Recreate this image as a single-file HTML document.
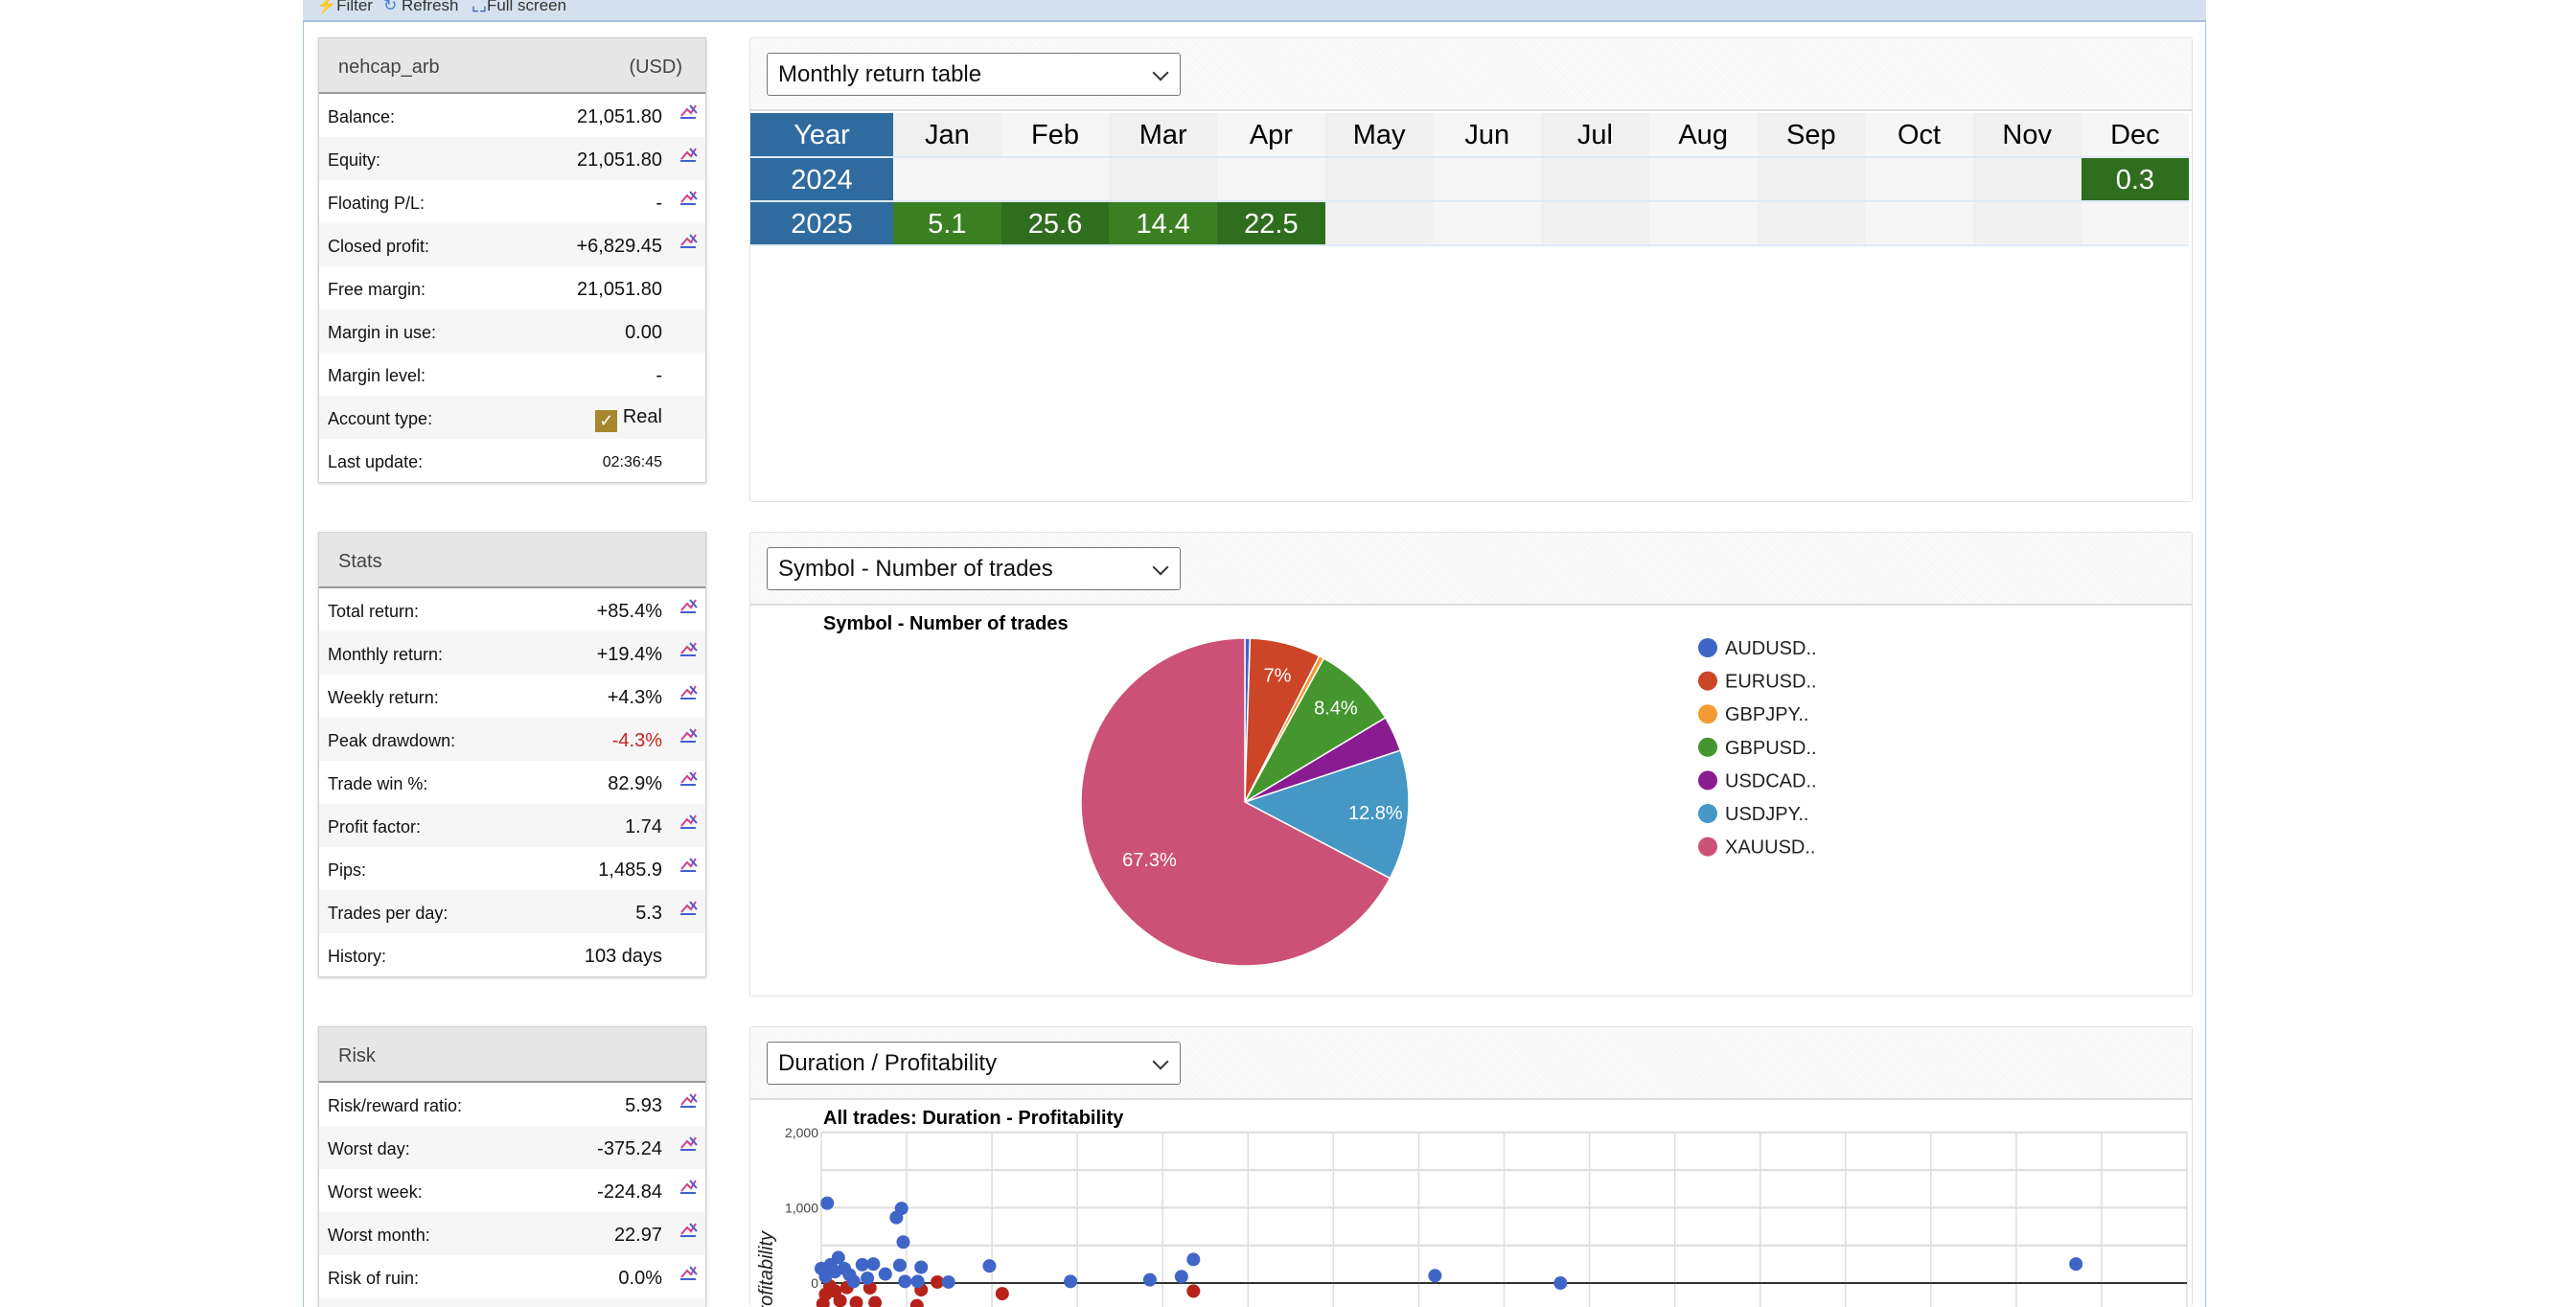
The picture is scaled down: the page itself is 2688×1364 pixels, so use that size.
<!DOCTYPE html>
<html><head><meta charset="utf-8">
<style>
*{box-sizing:border-box;margin:0;padding:0}
html,body{width:2688px;height:1364px;overflow:hidden}
body{background:#fff;font-family:"Liberation Sans",sans-serif;position:relative}
.abs{position:absolute}
.toolbar{left:316px;top:-4px;width:1986px;height:27px;background:#d5e1ee;border-bottom:2px solid #a8c0df;font-size:17px;color:#333}
.container{left:316px;top:0;width:1986px;height:1364px;border-left:1px solid #a8c0df;border-right:1px solid #a8c0df}
.panel{left:332px;width:405px;border:1px solid #d0d0d0;box-shadow:0 1px 3px rgba(0,0,0,.2);background:#fff;overflow:hidden}
.phead{height:58px;background:#e6e6e6;border-bottom:2px solid #999;display:flex;align-items:center;justify-content:space-between;padding:4px 24px 0 20px;font-size:20px;color:#444}
.row{height:45px;display:flex;align-items:center;padding:4px 0 0 9px;font-size:18px;color:#111;position:relative}
.row .v{position:absolute;right:45px;font-size:20px}
.row .ic{position:absolute;right:8px;top:8px;width:20px;height:20px}
.box{left:782px;width:1506px;border:1px solid #e2e2e2;border-radius:3px;background:#fff;overflow:hidden}
.band{height:76px;background:repeating-linear-gradient(45deg,#f7f7f7 0 2px,#fbfbfb 2px 4px);border-bottom:2px solid #ddd;position:relative}
.dd{position:absolute;left:17px;top:15px;width:432px;height:45px;border:1px solid #777;border-radius:3px;background:#fff;font-size:24px;padding:8px 11px;color:#111}
.dd:after{content:"";position:absolute;right:14px;top:14px;width:10px;height:10px;border-right:2px solid #333;border-bottom:2px solid #333;transform:rotate(45deg)}
table{border-collapse:collapse;position:absolute;left:0;top:78px}
td{height:46px;text-align:center;font-size:29px;border-bottom:2px solid #dde9f6;padding:2px 0 0 0}
td.y{width:149px;background:#306b9f;color:#fff}
td.m{width:112.7px}
td.a{background:#f0f0f0}td.b{background:#f6f6f6}
td.g{background:#3a8022;color:#fff}td.dg{background:#2f6e1f;color:#fff}
</style></head><body>
<div class="abs container"></div>
<div class="abs toolbar">
 <span class="abs" style="left:14px;top:0"><span style="color:#e0a000">⚡</span>Filter</span>
 <span class="abs" style="left:84px;top:0"><span style="color:#4a7fd0">↻</span> Refresh</span>
 <span class="abs" style="left:176px;top:0"><span style="color:#2a5fb0">⌞⌟</span>Full screen</span>
</div>

<svg width="0" height="0" style="position:absolute"><defs><g id="ico"><path d="M3 15 L9 8 L13 12 L18 4" stroke="#d04090" stroke-width="2" fill="none"/><path d="M2 17 L18 17" stroke="#4060d0" stroke-width="2"/><path d="M12 4 L19 12" stroke="#4060d0" stroke-width="2"/></g></defs></svg>

<div class="abs panel" style="top:39px">
 <div class="phead"><span>nehcap_arb</span><span>(USD)</span></div>
 <div>
  <div class="row" style="background:#fff"><span>Balance:</span><span class="v">21,051.80</span><svg class="ic"><use href="#ico"/></svg></div>
  <div class="row" style="background:#f6f6f6"><span>Equity:</span><span class="v">21,051.80</span><svg class="ic"><use href="#ico"/></svg></div>
  <div class="row" style="background:#fff"><span>Floating P/L:</span><span class="v">-</span><svg class="ic"><use href="#ico"/></svg></div>
  <div class="row" style="background:#f6f6f6"><span>Closed profit:</span><span class="v">+6,829.45</span><svg class="ic"><use href="#ico"/></svg></div>
  <div class="row" style="background:#fff"><span>Free margin:</span><span class="v">21,051.80</span></div>
  <div class="row" style="background:#f6f6f6"><span>Margin in use:</span><span class="v">0.00</span></div>
  <div class="row" style="background:#fff"><span>Margin level:</span><span class="v">-</span></div>
  <div class="row" style="background:#f6f6f6"><span>Account type:</span><span class="v"><span style="display:inline-block;width:23px;height:23px;background:#a8862e;color:#fff;text-align:center;font-size:18px;line-height:23px;vertical-align:-4px">✓</span> Real</span></div>
  <div class="row" style="background:#fff"><span>Last update:</span><span class="v" style="font-size:16px">02:36:45</span></div>
 </div>
</div>

<div class="abs panel" style="top:555px">
 <div class="phead"><span>Stats</span></div>
 <div class="row" style="background:#fff"><span>Total return:</span><span class="v">+85.4%</span><svg class="ic"><use href="#ico"/></svg></div>
 <div class="row" style="background:#f6f6f6"><span>Monthly return:</span><span class="v">+19.4%</span><svg class="ic"><use href="#ico"/></svg></div>
 <div class="row" style="background:#fff"><span>Weekly return:</span><span class="v">+4.3%</span><svg class="ic"><use href="#ico"/></svg></div>
 <div class="row" style="background:#f6f6f6"><span>Peak drawdown:</span><span class="v" style="color:#c8261c">-4.3%</span><svg class="ic"><use href="#ico"/></svg></div>
 <div class="row" style="background:#fff"><span>Trade win %:</span><span class="v">82.9%</span><svg class="ic"><use href="#ico"/></svg></div>
 <div class="row" style="background:#f6f6f6"><span>Profit factor:</span><span class="v">1.74</span><svg class="ic"><use href="#ico"/></svg></div>
 <div class="row" style="background:#fff"><span>Pips:</span><span class="v">1,485.9</span><svg class="ic"><use href="#ico"/></svg></div>
 <div class="row" style="background:#f6f6f6"><span>Trades per day:</span><span class="v">5.3</span><svg class="ic"><use href="#ico"/></svg></div>
 <div class="row" style="background:#fff"><span>History:</span><span class="v">103 days</span></div>
</div>

<div class="abs panel" style="top:1071px;height:293px;border-bottom:none">
 <div class="phead"><span>Risk</span></div>
 <div class="row" style="background:#fff"><span>Risk/reward ratio:</span><span class="v">5.93</span><svg class="ic"><use href="#ico"/></svg></div>
 <div class="row" style="background:#f6f6f6"><span>Worst day:</span><span class="v">-375.24</span><svg class="ic"><use href="#ico"/></svg></div>
 <div class="row" style="background:#fff"><span>Worst week:</span><span class="v">-224.84</span><svg class="ic"><use href="#ico"/></svg></div>
 <div class="row" style="background:#f6f6f6"><span>Worst month:</span><span class="v">22.97</span><svg class="ic"><use href="#ico"/></svg></div>
 <div class="row" style="background:#fff"><span>Risk of ruin:</span><span class="v">0.0%</span><svg class="ic"><use href="#ico"/></svg></div>
 <div class="row" style="background:#f6f6f6"></div>
</div>

<!-- Monthly table -->
<div class="abs box" style="top:39px;height:485px">
 <div class="band"><div class="dd">Monthly return table</div></div>
 <table>
  <tr><td class="y">Year</td><td class="m a">Jan</td><td class="m b">Feb</td><td class="m a">Mar</td><td class="m b">Apr</td><td class="m a">May</td><td class="m b">Jun</td><td class="m a">Jul</td><td class="m b">Aug</td><td class="m a">Sep</td><td class="m b">Oct</td><td class="m a">Nov</td><td class="m b">Dec</td></tr>
  <tr><td class="y">2024</td><td class="m b"></td><td class="m b"></td><td class="m a"></td><td class="m b"></td><td class="m a"></td><td class="m b"></td><td class="m a"></td><td class="m b"></td><td class="m a"></td><td class="m b"></td><td class="m a"></td><td class="m dg">0.3</td></tr>
  <tr><td class="y">2025</td><td class="m g">5.1</td><td class="m dg">25.6</td><td class="m g">14.4</td><td class="m dg">22.5</td><td class="m a"></td><td class="m b"></td><td class="m a"></td><td class="m b"></td><td class="m a"></td><td class="m b"></td><td class="m a"></td><td class="m b"></td></tr>
 </table>
</div>

<!-- Pie box -->
<div class="abs box" style="top:555px;height:485px">
 <div class="band"><div class="dd">Symbol - Number of trades</div></div>
</div>
<svg class="abs" id="pie" style="left:0;top:0" width="2688" height="1364">
 <text x="859" y="657" font-size="20" font-weight="bold" font-family="Liberation Sans">Symbol - Number of trades</text>
</svg>

<!-- Scatter box -->
<div class="abs box" style="top:1071px;height:293px;border-bottom:none">
 <div class="band"><div class="dd">Duration / Profitability</div></div>
</div>
<svg class="abs" id="sc" style="left:0;top:0" width="2688" height="1364">
 <text x="859" y="1173" font-size="20" font-weight="bold" font-family="Liberation Sans">All trades: Duration - Profitability</text>
</svg>

<script>
// Pie data
const pieLabels = ["AUDUSD..","EURUSD..","GBPJPY..","GBPUSD..","USDCAD..","USDJPY..","XAUUSD.."];
const pieValues = [0.5, 7.0, 0.5, 8.4, 3.5, 12.8, 67.3];
const pieText = ["","7%","","8.4%","","12.8%","67.3%"];
const pieColors = ["#3f65c6","#cc4527","#f29b33","#45962f","#8a1c92","#4597c5","#cc5177"];

// Scatter data (duration in grid units, profit)
const winDur = [0.07,0.94,0.88,0.96,0.2,0.11,0,0.48,0.61,0.92,1.17,0.27,0.54,0.98,1.13,1.49,1.97,2.92,3.85,4.22,4.36,7.19,8.66,14.7,0.38,0.16,0.05,0.33,0.75];
const winProfit = [1060,990,870,544,338,244,193,244,253,236,210,193,64,21,21,13,227,21,43,86,313,98,0,253,21,150,86,110,120];
const lossDur = [1.36,2.12,4.36,0.57,1.17,0.41,0.63,1.12,0.05,0.16,0.22,0.02,0.3,0.1];
const lossProfit = [13,-141,-107,-64,-90,-261,-261,-300,-150,-107,-235,-278,-60,-40];
const yTicks = [0,1000,2000];
const yTickLabels = ["0","1,000","2,000"];

const NS="http://www.w3.org/2000/svg";
function mk(parent,tag,attrs){const e=document.createElementNS(NS,tag);for(const k in attrs)e.setAttribute(k,attrs[k]);parent.appendChild(e);return e;}

// Pie
(function(){
 const svg=document.getElementById('pie');
 const cx=1299,cy=837,r=171;
 const total=pieValues.reduce((a,b)=>a+b,0);
 let a0=-Math.PI/2;
 pieValues.forEach((v,i)=>{
  const a1=a0+v/total*2*Math.PI;
  const large=(a1-a0)>Math.PI?1:0;
  const p=mk(svg,'path',{d:`M${cx},${cy} L${cx+r*Math.cos(a0)},${cy+r*Math.sin(a0)} A${r},${r} 0 ${large} 1 ${cx+r*Math.cos(a1)},${cy+r*Math.sin(a1)} Z`,fill:pieColors[i],stroke:'#fff','stroke-width':1.5});
  
  
  if(pieText[i]){
   const am=(a0+a1)/2, rr=r*(v>50?0.68:0.8);
   const t=mk(svg,'text',{x:cx+rr*Math.cos(am),y:cy+rr*Math.sin(am)+7,'text-anchor':'middle','font-size':20,fill:'#fff','font-family':'Liberation Sans'});
   t.textContent=pieText[i];
   
   
  }
  a0=a1;
 });
 pieLabels.forEach((l,i)=>{
  const y=676+i*34.6;
  const c=mk(svg,'circle',{cx:1782,cy:y,r:10,fill:pieColors[i]});
  
  
  const t=mk(svg,'text',{x:1800,y:y+7,'font-size':20,fill:'#222','font-family':'Liberation Sans'});
  t.textContent=l;
  
  
 });
})();

// Scatter
(function(){
 const svg=document.getElementById('sc');
 const L=857,R=2282,Y0=1339,pxPerUnit=0.0786,xUnit=(R-L)/16;
 const X=d=>L+d*xUnit, Y=v=>Y0-v*pxPerUnit;
 for(let i=0;i<=16;i++){
  const l=mk(svg,'line',{x1:X(i),x2:X(i),y1:Y(2000),y2:1364,stroke:'#ddd','stroke-width':1.5});
  
  
 }
 for(let v=500;v<=2000;v+=500){
  const l=mk(svg,'line',{x1:L,x2:R,y1:Y(v),y2:Y(v),stroke:'#ddd','stroke-width':2});
  
  
 }
 const z=mk(svg,'line',{x1:L,x2:R,y1:Y(0),y2:Y(0),stroke:'#333','stroke-width':2});
 
 
 yTicks.forEach((v,i)=>{
  const t=mk(svg,'text',{x:854,y:Y(v)+5,'text-anchor':'end','font-size':14,fill:'#444','font-family':'Liberation Sans'});
  t.textContent=yTickLabels[i];
  
  
 });
 const at=mk(svg,'text',{x:0,y:0,transform:'translate(806,1285) rotate(-90)','text-anchor':'end','font-size':20,'font-style':'italic',fill:'#222','font-family':'Liberation Sans'});
 at.textContent='Profitability';
 
 
 lossDur.forEach((d,i)=>{
  const c=mk(svg,'circle',{cx:X(d),cy:Y(lossProfit[i]),r:7,fill:'#b5231a'});
  
  
 });
 winDur.forEach((d,i)=>{
  const c=mk(svg,'circle',{cx:X(d),cy:Y(winProfit[i]),r:7,fill:'#3f65c6'});
  
  
 });
})();
</script>
</body></html>
